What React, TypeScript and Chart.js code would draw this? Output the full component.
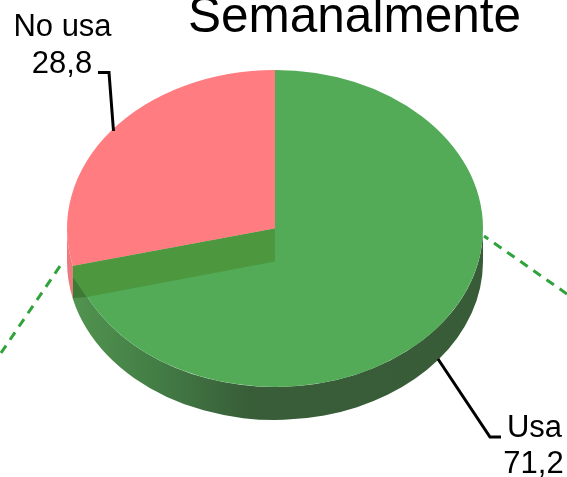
import React, { useEffect, useRef } from "react";
import { Chart, registerables } from "chart.js";

Chart.register(...registerables);

const chartTitle = "Semanalmente";
const categories = ["Usa", "No usa"];
const seriesValues = [71.2, 28.8];
const sliceColors = ["#53ab58", "#ff7c80"];

const W = 567;
const H = 477;
const CX = 275;
const CY = 228.5;
const RX = 208;
const RY = 158.5;
const DEPTH = 33;
const FONT = '"Liberation Sans", Arial, sans-serif';

const fmt = (v: number) => v.toFixed(1).replace(".", ",");

const pie3d = {
  id: "pie3d",
  beforeDatasetsDraw(chart: any) {
    const { ctx } = chart;
    const arcs = chart.getDatasetMeta(0).data;
    const green = arcs[0];
    const end = green.endAngle;

    // outer wall of the first slice
    const grad = ctx.createLinearGradient(CX - RX, 0, CX + RX, 0);
    grad.addColorStop(0, "#529550");
    grad.addColorStop(0.2, "#447f46");
    grad.addColorStop(0.44, "#385d38");
    grad.addColorStop(1, "#375c37");
    ctx.save();
    ctx.fillStyle = grad;
    ctx.beginPath();
    ctx.ellipse(CX, CY, RX, RY, 0, 0, end);
    ctx.ellipse(CX, CY + DEPTH, RX, RY, 0, end, 0, true);
    ctx.closePath();
    ctx.fill();

    // outer wall of the second slice (only its visible lower part)
    ctx.fillStyle = "#ec797d";
    ctx.beginPath();
    ctx.ellipse(CX, CY, RX, RY, 0, end, Math.PI);
    ctx.ellipse(CX, CY + DEPTH, RX, RY, 0, Math.PI, end, true);
    ctx.closePath();
    ctx.fill();
    ctx.restore();

    // squash the library's round pie into the perspective ellipse
    ctx.save();
    ctx.translate(CX, CY);
    ctx.scale(1, RY / RX);
    ctx.translate(-green.x, -green.y);
  },
  afterDatasetsDraw(chart: any) {
    const { ctx } = chart;
    ctx.restore();
    const green = chart.getDatasetMeta(0).data[0];
    const end = green.endAngle;
    const ex = CX + RX * Math.cos(end);
    const ey = CY + RY * Math.sin(end);

    // cut face of the first slice, seen through the top
    ctx.save();
    ctx.fillStyle = "#3d7a35";
    ctx.beginPath();
    ctx.moveTo(ex, ey + 11);
    ctx.lineTo(ex + 14, ey + 31);
    ctx.lineTo(ex, ey + 32);
    ctx.closePath();
    ctx.fill();
    ctx.fillStyle = "#4d983f";
    ctx.beginPath();
    ctx.moveTo(CX, CY);
    ctx.lineTo(ex, ey);
    ctx.lineTo(ex, ey + 11);
    ctx.lineTo(ex + 14, ey + 31);
    ctx.lineTo(CX, CY + DEPTH);
    ctx.closePath();
    ctx.fill();

    // dashed green fragments
    ctx.strokeStyle = "#2fa33a";
    ctx.lineWidth = 3;
    ctx.setLineDash([9, 7]);
    ctx.beginPath();
    ctx.moveTo(1, 353);
    ctx.lineTo(60, 266);
    ctx.moveTo(567, 294);
    ctx.lineTo(484, 236);
    ctx.stroke();
    ctx.setLineDash([]);

    // leader lines
    ctx.strokeStyle = "#000000";
    ctx.lineWidth = 3;
    ctx.beginPath();
    ctx.moveTo(98, 72.5);
    ctx.lineTo(109, 72.5);
    ctx.lineTo(113.5, 131);
    ctx.moveTo(438, 359);
    ctx.lineTo(490, 437);
    ctx.lineTo(501, 437);
    ctx.stroke();

    // text
    ctx.fillStyle = "#000000";
    ctx.textAlign = "center";
    ctx.textBaseline = "alphabetic";
    ctx.font = `49.5px ${FONT}`;
    ctx.fillText(chartTitle, 354.5, 32);
    ctx.font = `31px ${FONT}`;
    ctx.fillText(categories[1], 62.5, 36);
    ctx.fillText(fmt(seriesValues[1]), 62, 73);
    ctx.fillText(categories[0], 534.5, 437);
    ctx.fillText(fmt(seriesValues[0]), 533.5, 473);
    ctx.restore();
  },
};

export default function App() {
  const ref = useRef<HTMLCanvasElement>(null);
  useEffect(() => {
    if (!ref.current) return;
    const chart = new Chart(ref.current, {
      type: "pie",
      data: {
        labels: categories,
        datasets: [
          {
            data: seriesValues,
            backgroundColor: sliceColors,
            borderWidth: 0,
            hoverOffset: 0,
          },
        ],
      },
      options: {
        responsive: false,
        animation: false,
        rotation: 0,
        radius: RX,
        layout: { padding: { left: 67, right: 84, top: 20.5, bottom: 40.5 } },
        plugins: {
          legend: { display: false },
          title: { display: false },
          tooltip: { enabled: false },
        },
      },
      plugins: [pie3d],
    } as any);
    return () => chart.destroy();
  }, []);
  return (
    <div style={{ position: "fixed", left: 0, top: 0, width: W, height: H, background: "#ffffff" }}>
      <canvas ref={ref} width={W} height={H} style={{ display: "block" }} />
    </div>
  );
}
